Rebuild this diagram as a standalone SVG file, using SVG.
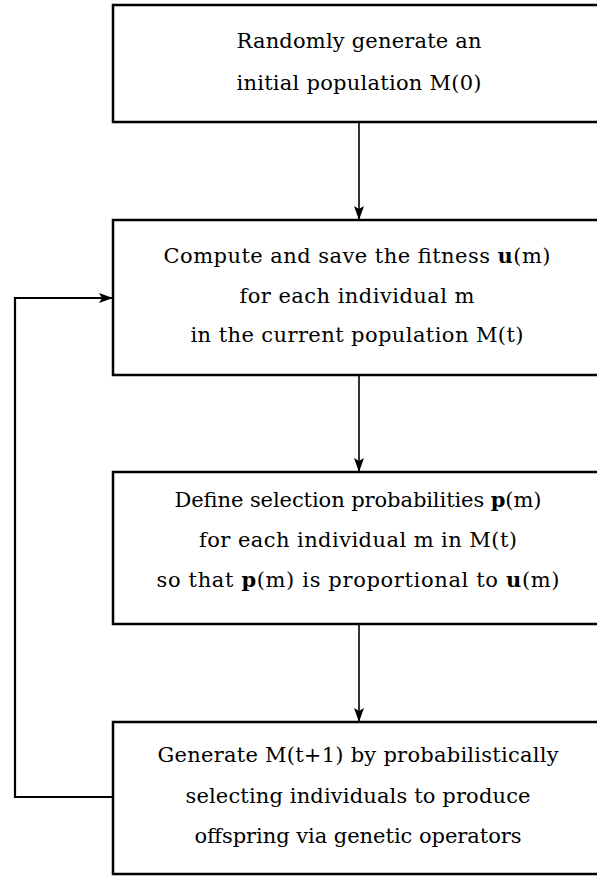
<svg xmlns="http://www.w3.org/2000/svg" width="597" height="877" viewBox="0 0 597 877">
<style>
.box{fill:#fff;stroke:#000;stroke-width:2.5}
.t{font-family:"DejaVu Serif","Liberation Serif",serif;font-size:21px;fill:#000;text-anchor:middle}
.b{font-weight:bold}
.c{fill:none;stroke:#000;stroke-width:1.6}
.fb{fill:none;stroke:#000;stroke-width:2.2}
</style>
<defs>
<marker id="ah" markerWidth="14" markerHeight="10" refX="13" refY="5" orient="auto" markerUnits="userSpaceOnUse">
<path d="M0,0 L14,5 L0,10 L3,5 Z" fill="#000"/>
</marker>
</defs>
<rect width="597" height="877" fill="#fff"/>
<g id="connectors">
<line class="c" x1="359" y1="122" x2="359" y2="219" marker-end="url(#ah)"/>
<line class="c" x1="359" y1="375" x2="359" y2="471" marker-end="url(#ah)"/>
<line class="c" x1="359" y1="624" x2="359" y2="721" marker-end="url(#ah)"/>
<polyline class="fb" points="113,797 15,797 15,298 112,298" marker-end="url(#ah)"/>
</g>
<g id="node1">
<rect class="box" x="113" y="5" width="492" height="117"/>
<text class="t" x="359" y="48" textLength="245">Randomly generate an</text>
<text class="t" x="359" y="90" textLength="245">initial population M(0)</text>
</g>
<g id="node2">
<rect class="box" x="113" y="220" width="492" height="155"/>
<text class="t" x="357" y="263" textLength="387">Compute and save the fitness <tspan class="b">u</tspan>(m)</text>
<text class="t" x="357" y="303" textLength="235">for each individual m</text>
<text class="t" x="357" y="342" textLength="333">in the current population M(t)</text>
</g>
<g id="node3">
<rect class="box" x="113" y="472" width="492" height="152"/>
<text class="t" x="358" y="507" textLength="367">Define selection probabilities <tspan class="b">p</tspan>(m)</text>
<text class="t" x="358" y="547" textLength="318">for each individual m in M(t)</text>
<text class="t" x="358" y="587" textLength="403">so that <tspan class="b">p</tspan>(m) is proportional to <tspan class="b">u</tspan>(m)</text>
</g>
<g id="node4">
<rect class="box" x="113" y="722" width="492" height="152"/>
<text class="t" x="358" y="762" textLength="401">Generate M(t+1) by probabilistically</text>
<text class="t" x="358" y="803" textLength="345">selecting individuals to produce</text>
<text class="t" x="358" y="843" textLength="327">offspring via genetic operators</text>
</g>
</svg>
